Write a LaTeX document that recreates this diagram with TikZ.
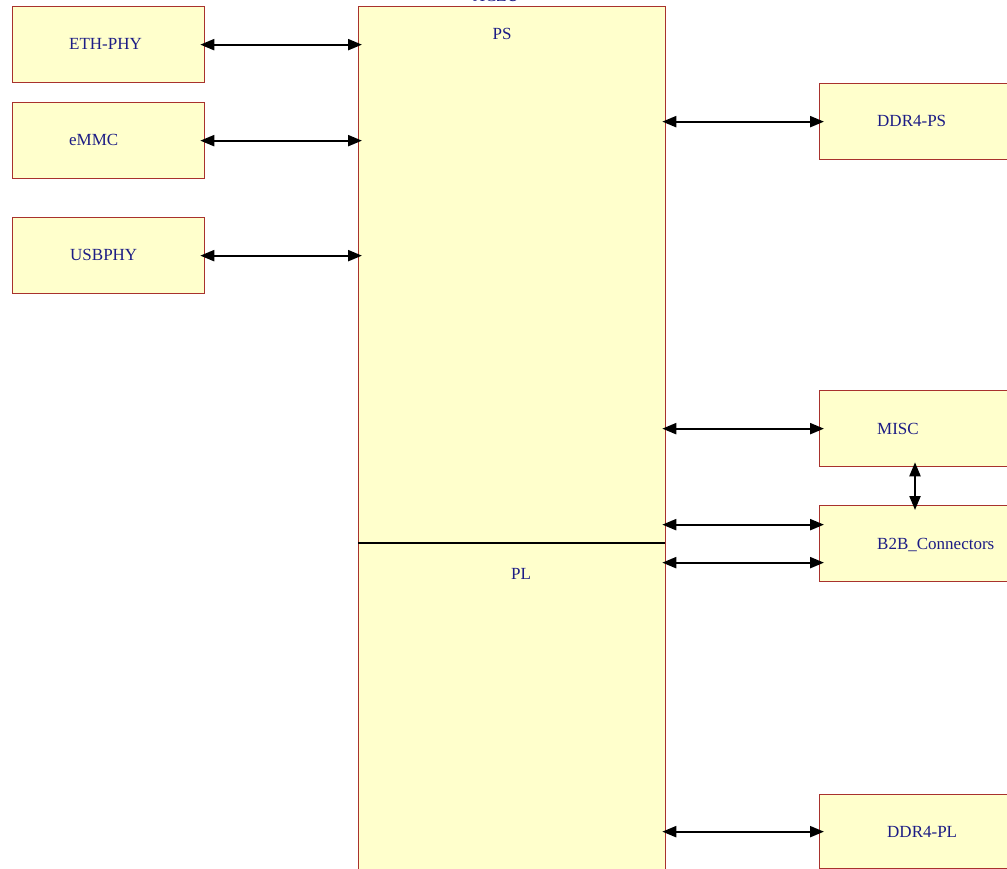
\documentclass[tikz,border=0pt]{standalone}
\usepackage{fontspec}
\setmainfont{Liberation Serif}
\usetikzlibrary{arrows.meta}
\definecolor{boxfill}{HTML}{FFFFCC}
\definecolor{boxline}{HTML}{A8322D}
\definecolor{txt}{HTML}{1C1C85}
\tikzset{
  blk/.style={draw=boxline, fill=boxfill, line width=1.3pt, rectangle, anchor=north west, inner sep=0pt},
  lbl/.style={text=txt, font=\fontsize{17}{20}\selectfont, inner sep=0pt, anchor=base west},
  clbl/.style={text=txt, font=\fontsize{17}{20}\selectfont, inner sep=0pt, anchor=base},
  biarrow/.style={line width=2.2pt, {Triangle[length=14pt,width=11pt]}-{Triangle[length=14pt,width=11pt]}}
}
\begin{document}
\begin{tikzpicture}[x=1pt,y=-1pt]
\useasboundingbox (0,0) rectangle (1007,869);
\clip (0,0) rectangle (1007,869);
% boxes
\node[blk, minimum width=192, minimum height=76] (eth) at (12,6) {};
\node[blk, minimum width=192, minimum height=76] (emmc) at (12,102) {};
\node[blk, minimum width=192, minimum height=76] (usb) at (12,217) {};
\node[blk, minimum width=307, minimum height=920] (soc) at (358,6) {};
\node[blk, minimum width=200, minimum height=76] (ddrps) at (819,83) {};
\node[blk, minimum width=200, minimum height=76] (misc) at (819,390) {};
\node[blk, minimum width=200, minimum height=76] (b2b) at (819,505) {};
\node[blk, minimum width=200, minimum height=74] (ddrpl) at (819,794) {};
% divider
\coordinate (divL) at (358,543);
\coordinate (divR) at (665,543);
\draw[line width=1.5pt] (divL) -- (divR);
% labels
\node[clbl] (tsoc) at (496,2) {XCZU};
\node[clbl] (tps) at (502,40) {PS};
\node[clbl] (tpl) at (521,579) {PL};
\node[lbl] (teth) at (69,50) {ETH-PHY};
\node[lbl] (temmc) at (69,146) {eMMC};
\node[lbl] (tusb) at (70,261) {USBPHY};
\node[lbl] (tddrps) at (877,127) {DDR4-PS};
\node[lbl] (tmisc) at (877,434) {MISC};
\node[lbl] (tb2b) at (877,549) {B2B\_Connectors};
\node[lbl] (tddrpl) at (887,837) {DDR4-PL};
% connectors
\draw[biarrow] ([xshift=-5pt]eth.east) -- ([xshift=4pt]soc.west |- eth.east);
\draw[biarrow] ([xshift=-5pt]emmc.east) -- ([xshift=4pt]soc.west |- emmc.east);
\draw[biarrow] ([xshift=-5pt]usb.east) -- ([xshift=4pt]soc.west |- usb.east);
\draw[biarrow] ([xshift=-4pt]soc.east |- ddrps.west) -- ([xshift=5pt]ddrps.west);
\draw[biarrow] ([xshift=-4pt]soc.east |- misc.west) -- ([xshift=5pt]misc.west);
\draw[biarrow] ([xshift=-4pt,yshift=19pt]soc.east |- b2b.west) -- ([xshift=5pt,yshift=19pt]b2b.west);
\draw[biarrow] ([xshift=-4pt,yshift=-19pt]soc.east |- b2b.west) -- ([xshift=5pt,yshift=-19pt]b2b.west);
\draw[biarrow] ([xshift=-4pt]soc.east |- ddrpl.west) -- ([xshift=5pt]ddrpl.west);
\draw[biarrow] ([yshift=5pt]misc.south -| 915,0) -- ([yshift=-5pt]b2b.north -| 915,0);
\end{tikzpicture}
\end{document}
